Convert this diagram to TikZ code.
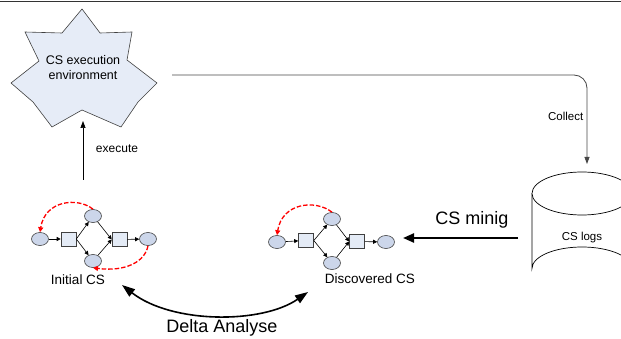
\documentclass[tikz,border=0pt]{standalone}
\usepackage{fontspec}
\setmainfont{Liberation Sans}
\usetikzlibrary{arrows.meta,shapes.geometric}
\definecolor{starfill}{RGB}{230,236,247}
\definecolor{placefill}{RGB}{204,214,234}
\definecolor{transfill}{RGB}{228,235,246}
\definecolor{lineg}{RGB}{70,70,70}
\tikzset{
  place/.style={ellipse,draw=black!75,fill=placefill,minimum width=17pt,minimum height=13pt,inner sep=0pt,line width=0.6pt},
  trans/.style={rectangle,draw=black!75,fill=transfill,minimum width=15pt,minimum height=14pt,inner sep=0pt,line width=0.6pt},
  arc/.style={line width=0.6pt,-{Triangle[length=4pt,width=4pt]}},
  redarc/.style={red,line width=1.3pt,dash pattern=on 4.5pt off 2pt,-{Triangle[length=5pt,width=5pt]}},
  lbl/.style={font=\fontsize{12}{14}\selectfont,inner sep=0pt},
  netlbl/.style={font=\fontsize{13.5}{16}\selectfont,inner sep=0pt},
  biglbl/.style={font=\fontsize{18}{21}\selectfont,inner sep=0pt},
}
\begin{document}
\begin{tikzpicture}[x=1pt,y=-1pt]
\clip (0,0) rectangle (621,339);
\useasboundingbox (0,0) rectangle (621,339);
% top rule
\draw[line width=1.5pt,black!80] (0,1.5) -- (621,1.5);
% star
\draw[fill=starfill,draw=black!75,line width=0.6pt]
  (82,9) -- (100,33) -- (132,32) -- (127,60) -- (157,83) -- (138,102) -- (121,127)
  -- (82,110) -- (52,127) -- (33,102) -- (11,83) -- (39,61) -- (25,32) -- (62,33) -- cycle;
\node[lbl,align=center,font=\fontsize{12.5}{15}\selectfont] (env) at (83,68) {CS execution\\environment};
\coordinate (envB) at (83,121);
\coordinate (exS) at (83,180);
\draw[arc,line width=0.7pt,-{Triangle[length=7pt,width=5pt]}] (exS) -- (envB);
\node[lbl] (exlbl) at (117,149) {execute};
% collect
\coordinate (colS) at (172,75);
\coordinate (colE) at (587,164);
\draw[lineg,line width=0.8pt,rounded corners=13pt,-{Triangle[length=7pt,width=5pt]}] (colS) -| (colE);
\node[lbl,anchor=east,font=\fontsize{11.5}{14}\selectfont] (collbl) at (583.5,116) {Collect};
% cylinder
\draw[fill=white,line width=0.7pt] (532,193.5) -- (532,268.5) arc[start angle=180,end angle=360,x radius=50,y radius=21.5] -- (632,193.5);
\draw[fill=white,line width=0.7pt] (582,193.5) ellipse[x radius=50,y radius=21.5];
\node[lbl,font=\fontsize{11.5}{14}\selectfont] (logs) at (582,238) {CS logs};
% CS mining arrow
\coordinate (minS) at (518,238);
\coordinate (minE) at (403,238);
\draw[line width=2.2pt,-{Triangle[length=11pt,width=9pt]}] (minS) -- (minE);
\node[biglbl] (minlbl) at (472,220) {CS minig};
% Initial CS
\node[place] (a1) at (40,239) {};
\node[trans] (at1) at (68.5,239) {};
\node[place] (a2) at (93,216) {};
\node[place] (a3) at (93,261) {};
\node[trans] (at2) at (119.5,239.5) {};
\node[place] (a4) at (148,239) {};
\draw[arc] (a1) -- (at1);
\draw[arc] (at1.east) -- (a2);
\draw[arc] (at1.east) -- (a3);
\draw[arc] (a2) -- (at2.west);
\draw[arc] (a3) -- (at2.west);
\draw[arc] (at2) -- (a4);
\draw[redarc] (a2.north) .. controls (78,197) and (45,200) .. (a1.north);
\draw[redarc] (a4.south) .. controls (145,262) and (125,272) .. (a3.south);
\node[netlbl] (ilbl) at (78,280) {Initial CS};
% Discovered CS
\node[place] (d1) at (277,242) {};
\node[trans] (dt1) at (306,240.5) {};
\node[place] (d2) at (332,219) {};
\node[place] (d3) at (332,263) {};
\node[trans] (dt2) at (357,241.5) {};
\node[place] (d4) at (386,242) {};
\draw[arc] (d1) -- (dt1);
\draw[arc] (dt1.east) -- (d2);
\draw[arc] (dt1.east) -- (d3);
\draw[arc] (d2) -- (dt2.west);
\draw[arc] (d3) -- (dt2.west);
\draw[arc] (dt2) -- (d4);
\draw[redarc] (d2.north) .. controls (315,199) and (282,203) .. (d1.north);
\node[netlbl] (dlbl) at (370,279) {Discovered CS};
% Delta analyse
\coordinate (dA) at (122,285);
\coordinate (dB) at (308,292);
\draw[line width=1.6pt,{Triangle[length=13pt,width=9pt]}-{Triangle[length=13pt,width=9pt]}] (dA) .. controls (172,324) and (262,324) .. (dB);
\node[biglbl] (dlt) at (222,328) {Delta Analyse};
\end{tikzpicture}
\end{document}
